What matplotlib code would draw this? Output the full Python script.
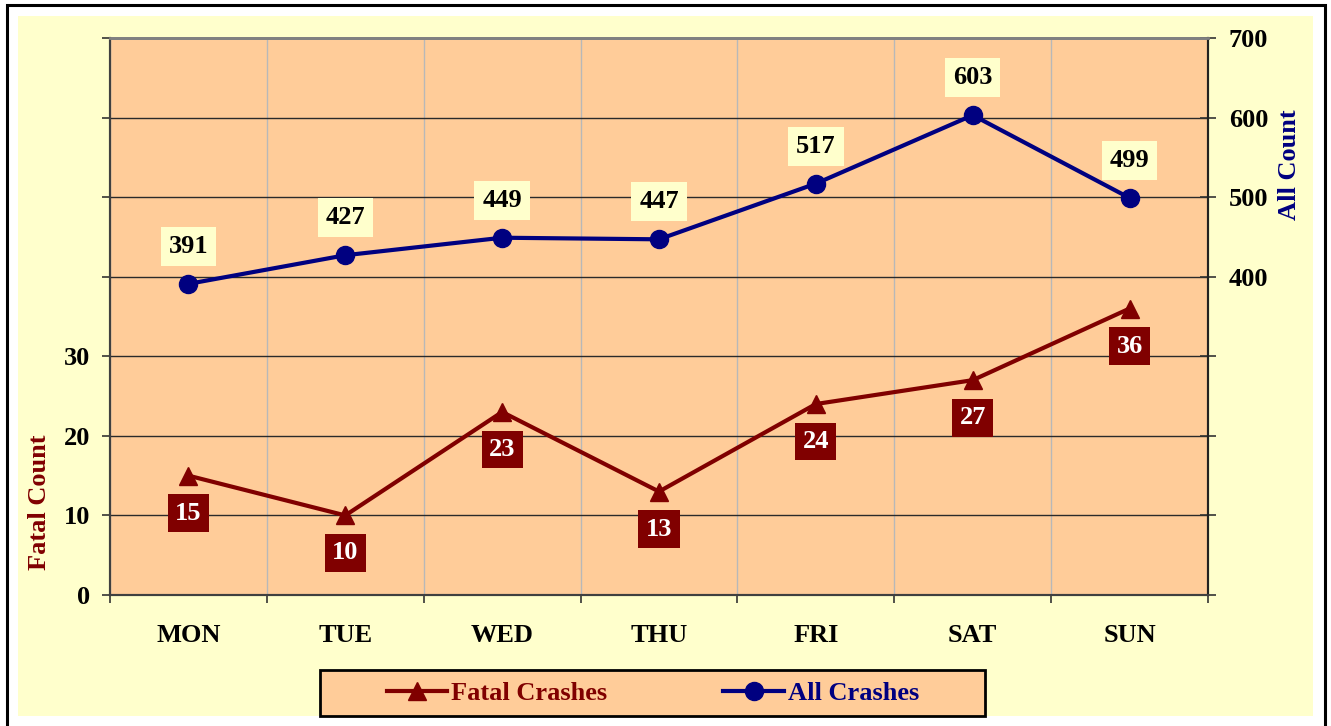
import numpy as np
import matplotlib
matplotlib.use('Agg')
import matplotlib.pyplot as plt
from matplotlib.patches import Rectangle
from matplotlib.lines import Line2D

days = ['MON', 'TUE', 'WED', 'THU', 'FRI', 'SAT', 'SUN']
fatal_crashes = [15, 10, 23, 13, 24, 27, 36]
all_crashes = [391, 427, 449, 447, 517, 603, 499]
fatal_tick_labels = [0, 10, 20, 30]
all_tick_labels = [400, 500, 600, 700]

FATAL = '#800000'
ALL = '#000080'
PLOT_BG = '#FFCC99'
CHART_BG = '#FFFFCC'
FS = 19

W, H = 1331, 726


def fx(px):
    return px / W


def fy(py):
    # pixel row from top -> figure fraction from bottom
    return 1 - py / H


def main():
    plt.rcParams['font.family'] = ['Liberation Serif', 'DejaVu Serif']
    plt.rcParams['font.weight'] = 'bold'

    fig = plt.figure(figsize=(W / 100, H / 100), dpi=100, facecolor='white')

    # outer border and yellow chart area
    fig.patches.append(Rectangle((fx(7), -0.05), fx(1325 - 7), fy(5) + 0.05,
                                 transform=fig.transFigure, fc='white', ec='black',
                                 lw=2.2, zorder=-10))
    fig.patches.append(Rectangle((fx(18), fy(716)), fx(1313 - 18), (716 - 16) / H,
                                 transform=fig.transFigure, fc=CHART_BG, ec='none',
                                 zorder=-9))

    ax = fig.add_axes([fx(110), fy(595), fx(1208 - 110), (595 - 38) / H])
    ax.set_facecolor(PLOT_BG)
    ax2 = ax.twinx()

    x = np.arange(len(days))
    ax.set_xlim(-0.5, len(days) - 0.5)
    ax.set_ylim(0, 70)
    ax2.set_ylim(0, 700)

    # grid
    ax.set_xticks(np.arange(-0.5, len(days), 1))
    ax.set_xticklabels([])
    ax.set_xticks(x, minor=True)
    ax.set_xticklabels(days, minor=True)
    ax.xaxis.grid(True, which='major', color='#B8B8B8', lw=1)
    left_ticks = np.arange(0, 71, 10)
    ax.set_yticks(left_ticks)
    ax.set_yticklabels([str(v) if v in fatal_tick_labels else '' for v in left_ticks])
    ax.yaxis.grid(True, color='#2A2A2A', lw=1)
    ax.set_axisbelow(True)

    right_ticks = np.arange(0, 701, 100)
    ax2.set_yticks(right_ticks)
    ax2.set_yticklabels([str(v) if v in all_tick_labels else '' for v in right_ticks])

    ax.tick_params(axis='x', which='major', direction='out', length=6, width=1.2,
                   color='#333333')
    ax.tick_params(axis='x', which='minor', length=0, pad=21, labelsize=FS)
    ax.tick_params(axis='y', direction='out', length=6, width=1.2, pad=8,
                   labelsize=FS, color='#333333')
    ax2.tick_params(axis='y', direction='inout', length=12, width=1.2, pad=9,
                    labelsize=FS, color='#333333')

    for a in (ax, ax2):
        a.spines['top'].set_color('#808080')
        a.spines['top'].set_linewidth(2)
        a.spines['left'].set_color('#404040')
        a.spines['left'].set_linewidth(1.5)
        a.spines['bottom'].set_color('#404040')
        a.spines['bottom'].set_linewidth(1.5)
        a.spines['right'].set_color('#222222')
        a.spines['right'].set_linewidth(1.5)

    # series
    ax.plot(x, fatal_crashes, color=FATAL, lw=3, marker='^', ms=13, zorder=3,
            clip_on=False)
    ax2.plot(x, all_crashes, color=ALL, lw=3, marker='o', ms=13, zorder=3,
             clip_on=False)

    for i, v in enumerate(fatal_crashes):
        ax.annotate(str(v), (i, v), xytext=(0, -27), textcoords='offset points',
                    ha='center', va='center', color='white', fontsize=FS,
                    fontweight='bold', zorder=4,
                    bbox=dict(boxstyle='square,pad=0.28', fc=FATAL, ec='none'))
    for i, v in enumerate(all_crashes):
        ax2.annotate(str(v), (i, v), xytext=(0, 27), textcoords='offset points',
                     ha='center', va='center', color='black', fontsize=FS,
                     fontweight='bold', zorder=4,
                     bbox=dict(boxstyle='square,pad=0.3', fc=CHART_BG, ec='none'))

    fig.text(fx(40), fy(502), 'Fatal Count', rotation=90, ha='center', va='center',
             color=FATAL, fontsize=FS, fontweight='bold')
    fig.text(fx(1289), fy(165), 'All Count', rotation=90, ha='center', va='center',
             color=ALL, fontsize=FS, fontweight='bold')

    # legend
    fig.patches.append(Rectangle((fx(320), fy(716)), fx(985 - 320), (716 - 670) / H,
                                 transform=fig.transFigure, fc=PLOT_BG, ec='black',
                                 lw=2, zorder=4))
    handles = [Line2D([], [], color=FATAL, lw=3, marker='^', ms=13),
               Line2D([], [], color=ALL, lw=3, marker='o', ms=13)]
    leg = fig.legend(handles, ['Fatal Crashes', 'All Crashes'], loc='center',
                     bbox_to_anchor=(fx(653), fy(693)), ncol=2, frameon=False,
                     fontsize=FS, handlelength=2.3, handletextpad=0.15,
                     columnspacing=4.4)
    for text, color in zip(leg.get_texts(), (FATAL, ALL)):
        text.set_color(color)

    fig.savefig('out.png', dpi=100)


if __name__ == '__main__':
    main()
